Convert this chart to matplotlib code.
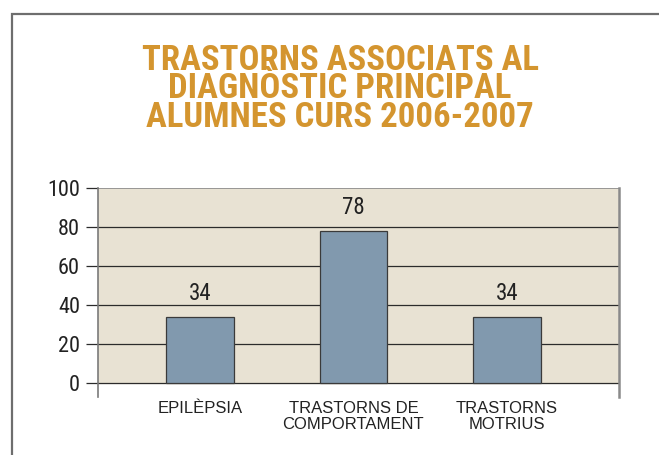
import matplotlib
matplotlib.use("Agg")
import matplotlib.pyplot as plt
from matplotlib.patches import Rectangle

categories = ["EPILÈPSIA", "TRASTORNS DE\nCOMPORTAMENT", "TRASTORNS\nMOTRIUS"]
values = [34, 78, 34]
yticks = [0, 20, 40, 60, 80, 100]
title = "TRASTORNS ASSOCIATS AL\nDIAGNÒSTIC PRINCIPAL\nALUMNES CURS 2006-2007"

narrow = ["Roboto Condensed", "DejaVu Sans"]
plain = ["Liberation Sans", "DejaVu Sans"]

fig = plt.figure(figsize=(6.59, 4.55), dpi=100)
# outer frame (cut off at right and bottom)
fig.patches.append(Rectangle((12 / 659, -0.1), 1.2, 1 - 14 / 455 + 0.1,
                             transform=fig.transFigure, fill=False,
                             edgecolor="#6e6e6e", lw=1.6))

fig.text(340 / 659, 1 - 89 / 455, title, ha="center", va="center",
         family=narrow, fontweight="bold", fontsize=25, color="#d4952f",
         linespacing=0.84)

ax = fig.add_axes([98 / 659, 1 - 397 / 455, 521 / 659, (397 - 188) / 455])
ax.set_facecolor("white")
ax.axhspan(0, 100, color="#e8e2d3", zorder=0)
for y in yticks[:-1]:
    ax.axhline(y, color="#2b2b2b", lw=0.9, zorder=1)
ax.axhline(100, color="#8a8a8a", lw=1.2, zorder=1)

x = range(len(values))
ax.bar(x, values, width=0.44, color="#8199ae", edgecolor="#3a3a3a", lw=0.9, zorder=2)
for xi, v in zip(x, values):
    ax.text(xi, v + 6, str(v), ha="center", va="bottom", family=narrow,
            fontsize=16.5, color="#222222")

ax.set_xlim(-0.664, 2.73)
ax.set_ylim(-7, 100)
ax.set_yticks(yticks)
ax.set_yticklabels([str(t) for t in yticks], family=narrow, fontsize=16, color="#222222")
ax.tick_params(axis="y", length=9, width=0.9, color="#2b2b2b", pad=4)
ax.set_xticks(list(x))
ax.set_xticklabels(categories, fontsize=12, color="#222222", linespacing=1.1,
                   family=plain)
ax.tick_params(axis="x", length=0, pad=3)

ax.spines["top"].set_visible(False)
ax.spines["bottom"].set_visible(False)
ax.spines["left"].set_color("#7a7a7a")
ax.spines["left"].set_linewidth(1.2)
ax.spines["right"].set_color("#8a8a8a")
ax.spines["right"].set_linewidth(1.8)

fig.savefig("out.png", dpi=100)
